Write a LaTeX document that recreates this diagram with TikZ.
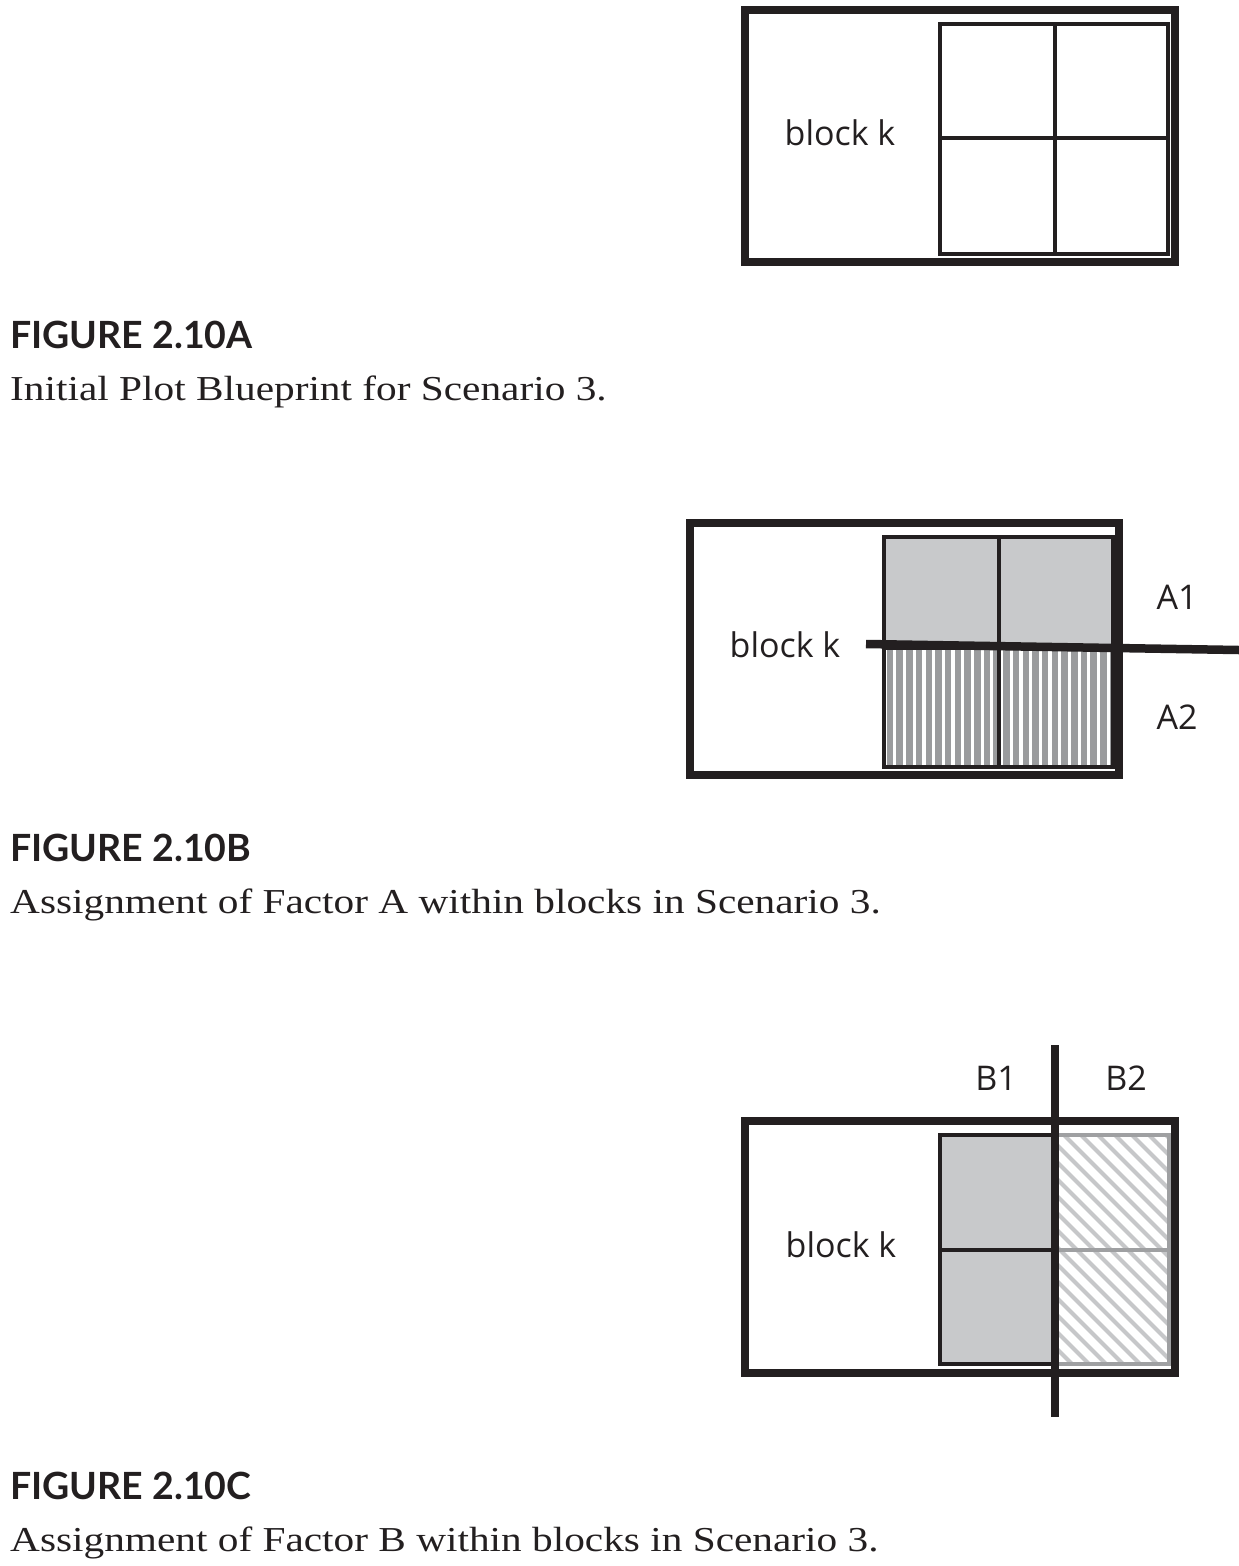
\documentclass[tikz,border=0pt]{standalone}
\usepackage{fontspec}
\setmainfont{Liberation Serif}[FakeStretch=1.18]
\newfontfamily\plotfont{Open Sans}
\newfontfamily\headfont{Lato}
\usetikzlibrary{positioning}
\definecolor{Ink}{HTML}{231F20}
\definecolor{CellFill}{HTML}{C8C9CB}
\definecolor{StripeInk}{HTML}{9A9B9D}
\definecolor{HatchInk}{HTML}{C6C7C9}
\definecolor{CellEdge}{HTML}{9FA0A2}
\newcommand{\plotlabelfont}{\plotfont\fontsize{34}{40}\selectfont}
\newcommand{\capheadfont}{\headfont\bfseries\fontsize{37.5}{42}\selectfont}
\newcommand{\captextfont}{\fontsize{35}{40}\selectfont}
\tikzset{
  % one pixel of the blueprint is one point
  every node/.style={inner sep=0pt, text=Ink},
  block frame/.style={draw=Ink, line width=8pt},
  plot grid/.style={draw=Ink, line width=4.5pt},
  plot grid light/.style={draw=CellEdge, line width=4pt},
  factor line/.style={draw=Ink, line width=8.5pt},
  plot label/.style={font=\plotlabelfont, anchor=base},
  cap head/.style={font=\capheadfont, anchor=base west},
  cap text/.style={font=\captextfont, anchor=base west},
  stripe/.style={draw=StripeInk, line width=6.5pt},
  hatch/.style={draw=HatchInk, line width=4.2pt}
}

\begin{document}
\begin{tikzpicture}[x=1pt, y=-1pt]
\useasboundingbox (0,0) rectangle (1239,1566);

% ---------------------------------------------------------------------------
% 2.10A: initial blueprint
% ---------------------------------------------------------------------------
\draw[block frame] (745,10) rectangle (1175,262);
\draw[plot grid] (940,24) rectangle (1168,254);
\draw[plot grid] (1055,24) -- (1055,254);
\draw[plot grid] (940,138) -- (1168,138);
\node[plot label] (blockA) at (840,145) {block k};

\node[cap head] (headA) at (10,348) {FIGURE 2.10A};
\node[cap text] (capA) at (10,400) {Initial Plot Blueprint for Scenario 3.};

% ---------------------------------------------------------------------------
% 2.10B: factor A within blocks
% ---------------------------------------------------------------------------
\fill[CellFill] (884,537) rectangle (1113,648);
\begin{scope}
  \clip (884,648) rectangle (1113,767);
  \foreach \x in {890,899.7,...,1116}{
    \draw[stripe] (\x,640) -- (\x,770);
  }
\end{scope}
\draw[block frame] (690,523) rectangle (1119,775);
\draw[plot grid] (884,537) rectangle (1113,767);
\draw[plot grid] (999,537) -- (999,767);
\draw[plot grid] (884,648) -- (1113,648);
\draw[factor line] (866,644) -- (1239,650);
\node[plot label] (blockB) at (785,657) {block k};
\node[plot label] (levelAone) at (1177,609) {A1};
\node[plot label] (levelAtwo) at (1177,729) {A2};

\node[cap head] (headB) at (10,861) {FIGURE 2.10B};
\node[cap text] (capB) at (10,913) {Assignment of Factor A within blocks in Scenario 3.};

% ---------------------------------------------------------------------------
% 2.10C: factor B within blocks
% ---------------------------------------------------------------------------
\fill[CellFill] (940,1135) rectangle (1055,1364);
\begin{scope}
  \clip (1055,1135) rectangle (1169,1364);
  \foreach \c in {740,757,...,1200}{
    \draw[hatch] (\c,1100) -- ++(300,300);
  }
\end{scope}
\draw[plot grid light] (1055,1135) rectangle (1169,1364);
\draw[plot grid light] (1055,1250) -- (1169,1250);
\draw[plot grid] (940,1135) rectangle (1055,1364);
\draw[plot grid] (940,1250) -- (1055,1250);
\draw[block frame] (745,1121) rectangle (1175,1373);
\draw[factor line] (1055,1045) -- (1055,1417);
\node[plot label] (blockC) at (841,1257) {block k};
\node[plot label] (levelBone) at (996,1090) {B1};
\node[plot label] (levelBtwo) at (1126,1090) {B2};

\node[cap head] (headC) at (10,1499) {FIGURE 2.10C};
\node[cap text] (capC) at (10,1551) {Assignment of Factor B within blocks in Scenario 3.};

\end{tikzpicture}
\end{document}
